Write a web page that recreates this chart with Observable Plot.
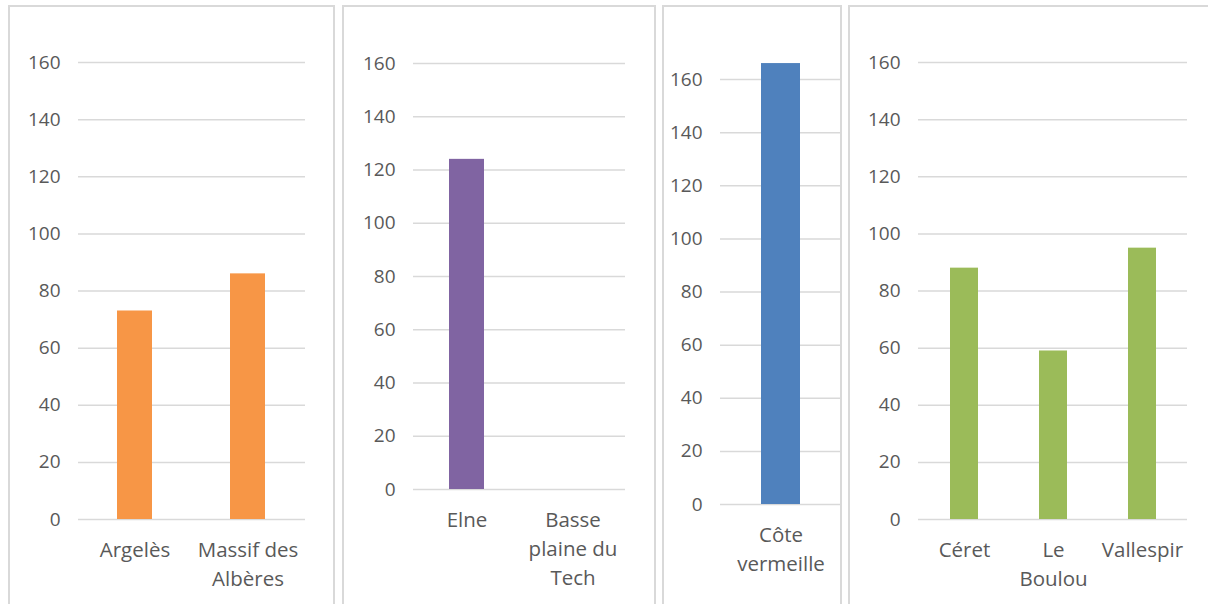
<!DOCTYPE html>
<html>
<head>
<meta charset="utf-8">
<script src="https://cdn.jsdelivr.net/npm/d3@7"></script>
<script src="https://cdn.jsdelivr.net/npm/@observablehq/plot@0.6"></script>
<style>
  html, body { margin: 0; padding: 0; background: #fff; }
  body { width: 1208px; height: 604px; position: relative; overflow: hidden; }
  .frame { position: absolute; top: 5px; height: 700px; box-sizing: border-box;
           border: 2px solid #d9d9d9; background: #fff; }
  .panel { position: absolute; top: 0; }
</style>
</head>
<body>
<script>
// Territoires and their values, one small chart per sector
const territoiresA = ["Argelès", "Massif des Albères"];
const valeursA = [73, 86];
const territoiresB = ["Elne", "Basse plaine du Tech"];
const valeursB = [124, 0];
const territoiresC = ["Côte vermeille"];
const valeursC = [166];
const territoiresD = ["Céret", "Le Boulou", "Vallespir"];
const valeursD = [88, 59, 95];

const couleurs = ["#F79646", "#8064A2", "#4F81BD", "#9BBB59"];
const graduations = [0, 20, 40, 60, 80, 100, 120, 140, 160];

// wrapped category labels as they appear under the bars
const etiquettes = {
  "Massif des Albères": "Massif des\nAlbères",
  "Basse plaine du Tech": "Basse\nplaine du\nTech",
  "Côte vermeille": "Côte\nvermeille",
  "Le Boulou": "Le\nBoulou"
};

const FONT = "'Open Sans', sans-serif";
const FS_Y = 19;    // value axis labels
const FS_X = 20.5;  // category labels

const panels = [
  {frame: [8, 327], svgLeft: 10, width: 323, mL: 68, mR: 28, mT: 62, mB: 85,
   cats: territoiresA, vals: valeursA, color: couleurs[0], pad: 0.69},
  {frame: [342, 314], svgLeft: 344, width: 310, mL: 69, mR: 29, mT: 63, mB: 115,
   cats: territoiresB, vals: valeursB, color: couleurs[1], pad: 0.67},
  {frame: [662, 180], svgLeft: 664, width: 176, mL: 56, mR: 0, mT: 79, mB: 100,
   cats: territoiresC, vals: valeursC, color: couleurs[2], pad: 0.675},
  {frame: [848, 400], svgLeft: 850, width: 358, mL: 68, mR: 21, mT: 62, mB: 85,
   cats: territoiresD, vals: valeursD, color: couleurs[3], pad: 0.69}
];

for (const p of panels) {
  const box = document.createElement("div");
  box.className = "frame";
  box.style.left = p.frame[0] + "px";
  box.style.width = p.frame[1] + "px";
  document.body.appendChild(box);

  const data = p.cats.map((c, i) => ({territoire: c, valeur: p.vals[i]}));
  const chart = Plot.plot({
    width: p.width,
    height: 604,
    marginLeft: p.mL,
    marginRight: p.mR,
    marginTop: p.mT,
    marginBottom: p.mB,
    style: {fontFamily: FONT, fontSize: FS_Y + "px", color: "#595959",
            background: "transparent", overflow: "visible"},
    x: {domain: p.cats, paddingInner: p.pad, paddingOuter: p.pad / 2, label: null},
    y: {domain: [0, 160], label: null},
    marks: [
      Plot.gridY(graduations, {stroke: "#d9d9d9", strokeOpacity: 1, strokeWidth: 1.5}),
      Plot.barY(data, {x: "territoire", y: "valeur", fill: p.color}),
      Plot.axisY(graduations, {tickSize: 0, tickPadding: 18, fill: "#595959",
                               fontSize: FS_Y, label: null}),
      Plot.axisX({tickSize: 0, tickPadding: 17, fill: "#595959", fontSize: FS_X,
                  lineHeight: 29 / FS_X, label: null,
                  tickFormat: (d) => etiquettes[d] ?? d})
    ]
  });
  chart.classList.add("panel");
  chart.style.left = p.svgLeft + "px";
  document.body.appendChild(chart);
}
</script>
</body>
</html>
